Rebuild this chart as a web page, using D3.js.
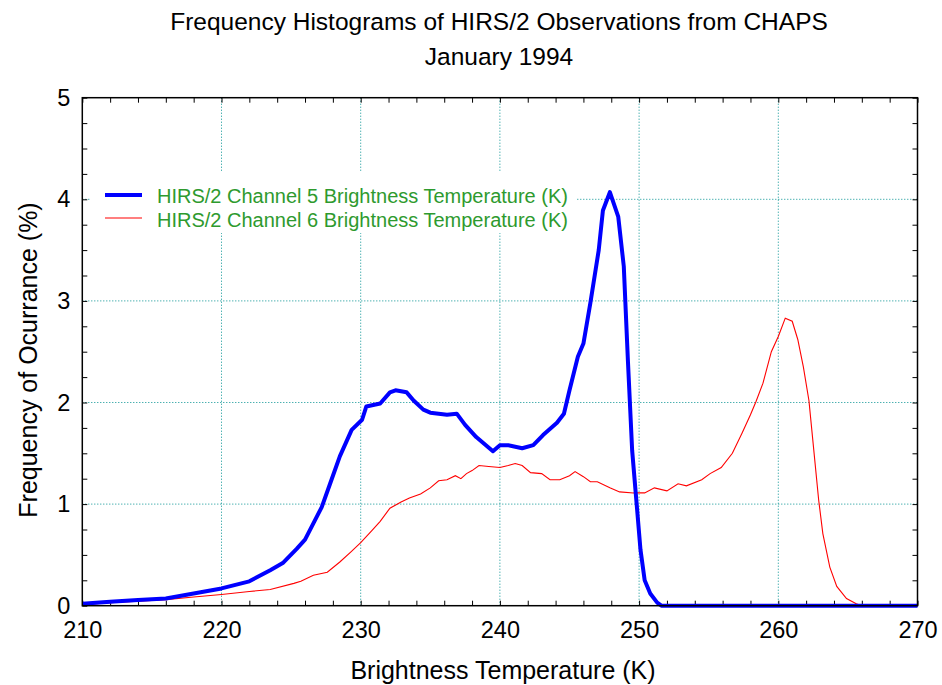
<!DOCTYPE html>
<html><head><meta charset="utf-8">
<script src="https://cdn.jsdelivr.net/npm/d3@7"></script>
<style>body{margin:0;background:#fff}svg{display:block}text{font-family:"Liberation Sans",Arial,sans-serif}</style>
</head><body><svg id="c" width="942" height="685"></svg>
<script>
const title1 = "Frequency Histograms of HIRS/2 Observations from CHAPS";
const title2 = "January 1994";
const xLabel = "Brightness Temperature (K)";
const yLabel = "Frequency of Ocurrance (%)";
const xTicks = [210, 220, 230, 240, 250, 260, 270];
const yTicks = [0, 1, 2, 3, 4, 5];
const seriesNames = ["HIRS/2 Channel 5 Brightness Temperature (K)", "HIRS/2 Channel 6 Brightness Temperature (K)"];

const ch5Temp = [210,212,214,216,218,220,222,223.5,224.4,225.4,226,226.6,227.2,227.8,228.5,229.35,230.1,230.4,231.4,232.1,232.5,233.3,233.8,234.5,235,236.2,236.9,237.5,238.3,239.5,240,240.6,241.6,242.4,243.1,244.1,244.6,245,245.6,246,246.5,247.1,247.4,247.9,248.5,248.9,249.2,249.5,249.8,250.1,250.4,250.8,251.3,251.6,255,260,265,270];
const ch5Freq = [0.02,0.04,0.056,0.07,0.12,0.17,0.24,0.35,0.42,0.56,0.65,0.81,0.97,1.2,1.47,1.73,1.83,1.96,1.99,2.1,2.12,2.1,2.02,1.93,1.9,1.88,1.89,1.78,1.66,1.52,1.58,1.58,1.55,1.58,1.68,1.8,1.89,2.12,2.45,2.58,2.98,3.5,3.89,4.07,3.83,3.34,2.4,1.53,1.04,0.55,0.25,0.12,0.03,0,0,0,0,0];

const ch6Temp = [210,212,214,216,218,220,222,223.5,225.2,225.7,226.6,227.6,228.5,229.3,230,230.8,231.4,232.1,232.9,233.5,234.3,235,235.6,236.2,236.8,237.2,237.6,238,238.5,239.2,240,240.6,241.1,241.6,242.2,243,243.6,244.3,245,245.4,246,246.5,247,247.9,248.6,249.6,250.4,251.1,252,252.8,253.4,254.5,255.1,255.9,256.7,257.4,258,258.4,258.9,259.5,260,260.5,261,261.4,261.8,262.2,262.5,262.9,263.2,263.7,264.2,264.9,265.6,266,270];
const ch6Freq = [0.01,0.03,0.045,0.06,0.085,0.11,0.14,0.16,0.22,0.24,0.3,0.33,0.43,0.53,0.62,0.74,0.83,0.96,1.02,1.06,1.1,1.16,1.23,1.24,1.28,1.25,1.3,1.33,1.38,1.37,1.36,1.38,1.4,1.38,1.31,1.3,1.24,1.24,1.28,1.32,1.27,1.22,1.22,1.16,1.12,1.11,1.11,1.16,1.13,1.2,1.18,1.24,1.3,1.36,1.5,1.7,1.88,2.01,2.19,2.5,2.65,2.83,2.8,2.62,2.35,2.02,1.6,1.04,0.71,0.38,0.19,0.07,0.02,0,0];

const svg = d3.select("#c");
const L = 82.3, R = 917.5, T = 97.7, B = 605.7;
const x = d3.scaleLinear().domain([210, 270]).range([L, R]);
const y = d3.scaleLinear().domain([0, 5]).range([B, T]);
const teal = "#009090";
const FONT = "Liberation Sans, Arial, sans-serif";

// grid
svg.append("g").selectAll("line").data(xTicks.slice(1, -1)).join("line")
  .attr("x1", d => x(d)).attr("x2", d => x(d)).attr("y1", T).attr("y2", B)
  .attr("stroke", teal).attr("stroke-dasharray", "1,2");
svg.append("g").selectAll("line").data(yTicks.slice(1, -1)).join("line")
  .attr("y1", d => y(d)).attr("y2", d => y(d)).attr("x1", L).attr("x2", R)
  .attr("stroke", teal).attr("stroke-dasharray", "1,2");

// legend background
svg.append("rect").attr("x", 91).attr("y", 171).attr("width", 485).attr("height", 62).attr("fill", "#fff");

// axes with inner ticks
const minorX = d3.range(210, 271, 2), minorY = d3.range(0, 5.01, 0.25);
svg.append("g").attr("transform", `translate(0,${B})`)
  .call(d3.axisBottom(x).tickValues(minorX).tickSize(-5).tickFormat(""))
  .call(g => g.select(".domain").remove()).selectAll("line").attr("stroke", "#000");
svg.append("g").attr("transform", `translate(0,${T})`)
  .call(d3.axisTop(x).tickValues(minorX).tickSize(-5).tickFormat(""))
  .call(g => g.select(".domain").remove()).selectAll("line").attr("stroke", "#000");
svg.append("g").attr("transform", `translate(${L},0)`)
  .call(d3.axisLeft(y).tickValues(minorY).tickSize(-5).tickFormat(""))
  .call(g => g.select(".domain").remove()).selectAll("line").attr("stroke", "#000");
svg.append("g").attr("transform", `translate(${R},0)`)
  .call(d3.axisRight(y).tickValues(minorY).tickSize(-5).tickFormat(""))
  .call(g => g.select(".domain").remove()).selectAll("line").attr("stroke", "#000");

// tick labels
const xl = svg.append("g").attr("transform", `translate(0,${B})`)
  .call(d3.axisBottom(x).tickValues(xTicks).tickSize(0).tickPadding(16).tickFormat(d3.format("d")));
xl.select(".domain").remove();
xl.selectAll("text").attr("font-size", 23.5).attr("fill", "#000").attr("font-family", FONT);
const yl = svg.append("g").attr("transform", `translate(${L},0)`)
  .call(d3.axisLeft(y).tickValues(yTicks).tickSize(0).tickPadding(12).tickFormat(d3.format("d")));
yl.select(".domain").remove();
yl.selectAll("text").attr("font-size", 23.5).attr("fill", "#000").attr("font-family", FONT);

// lines
const line = d3.line().x(d => x(d[0])).y(d => y(d[1]));
svg.append("path").datum(ch6Temp.map((t, i) => [t, ch6Freq[i]]))
  .attr("d", line).attr("fill", "none").attr("stroke", "#ff0000").attr("stroke-width", 1.1);
svg.append("path").datum(ch5Temp.map((t, i) => [t, ch5Freq[i]]))
  .attr("d", line).attr("fill", "none").attr("stroke", "#0000ff").attr("stroke-width", 4).attr("stroke-linejoin", "round");

// frame
svg.append("rect").attr("x", L).attr("y", T).attr("width", R - L).attr("height", B - T)
  .attr("fill", "none").attr("stroke", "#000").attr("stroke-width", 1.5);

// legend
const leg = [{c: "#0000ff", w: 4, ly: 195, ty: 203}, {c: "#ff0000", w: 1.1, ly: 218, ty: 227}];
leg.forEach((s, i) => {
  svg.append("line").attr("x1", 105).attr("x2", 142).attr("y1", s.ly).attr("y2", s.ly)
    .attr("stroke", s.c).attr("stroke-width", s.w);
  svg.append("text").attr("x", 157).attr("y", s.ty).attr("font-size", 20)
    .attr("fill", "#2e9a2e").text(seriesNames[i]);
});

// titles
svg.append("text").attr("x", 499).attr("y", 30).attr("text-anchor", "middle").attr("font-size", 24.5).text(title1);
svg.append("text").attr("x", 499).attr("y", 65).attr("text-anchor", "middle").attr("font-size", 24.5).text(title2);
svg.append("text").attr("x", 503).attr("y", 679).attr("text-anchor", "middle").attr("font-size", 25).text(xLabel);
svg.append("text").attr("transform", "translate(37,360) rotate(-90)").attr("text-anchor", "middle").attr("font-size", 25).text(yLabel);
</script></body></html>
